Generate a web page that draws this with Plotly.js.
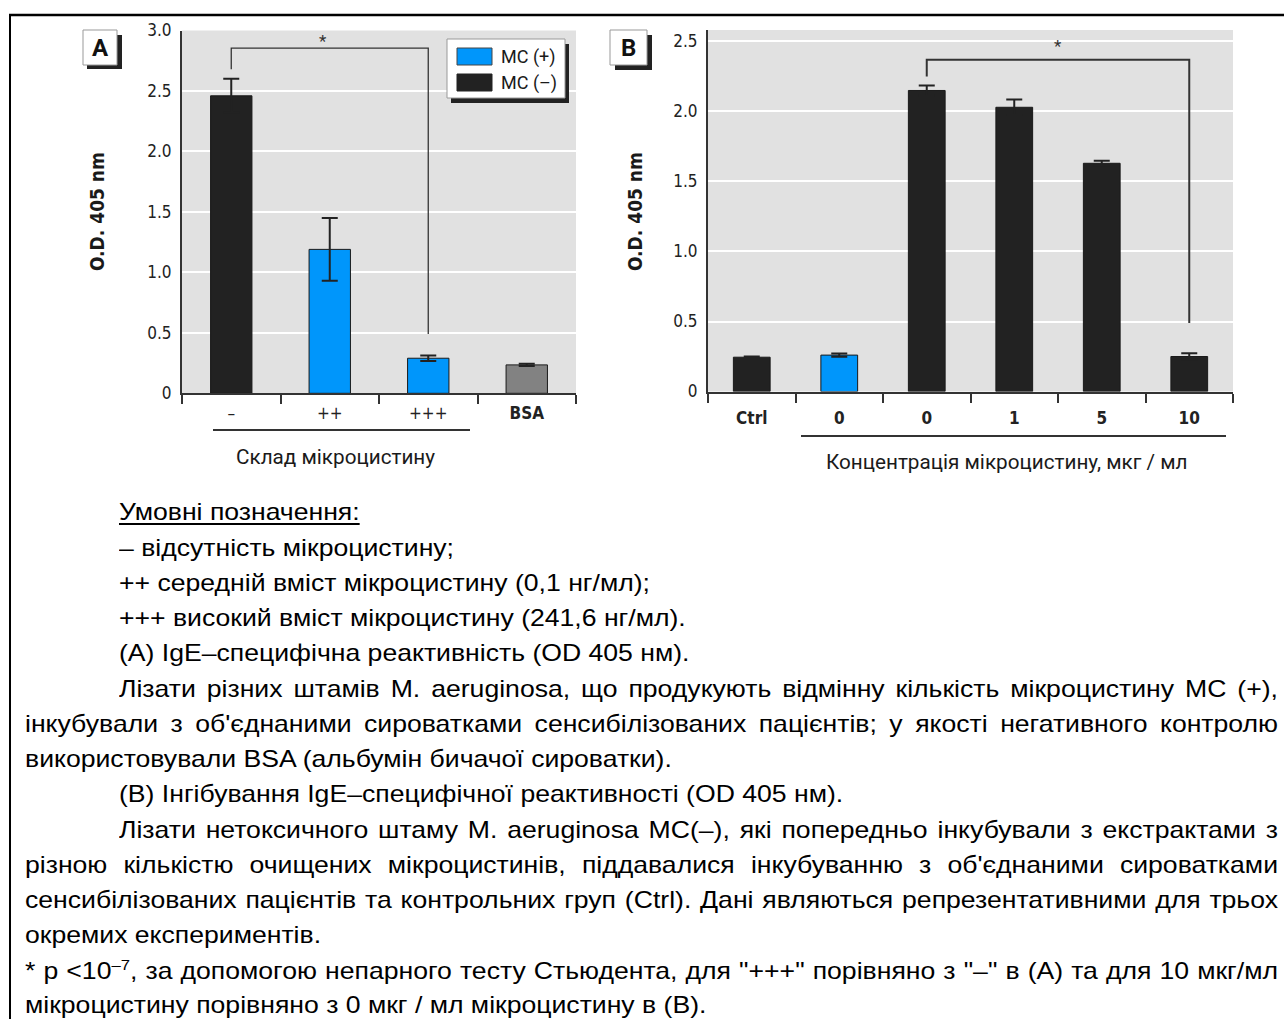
<!DOCTYPE html>
<html>
<head>
<meta charset="utf-8">
<script src="https://cdn.plot.ly/plotly-3.0.1.min.js"></script>
<style>
  html, body { margin: 0; padding: 0; background: #fff; }
  #wrap { position: relative; width: 1284px; height: 1019px; overflow: hidden; }
  #chart { position: absolute; left: 0; top: 0; width: 1284px; height: 1019px; }
  #caption { position: absolute; left: 0; top: 0; width: 1284px; height: 1019px; pointer-events: none;
             font-family: "Liberation Sans", Arial, sans-serif; font-size: 24px; color: #000; }
  .ln { position: absolute; white-space: nowrap; line-height: 35px; transform-origin: 0 50%; }
  .jst { text-align: justify; text-align-last: justify; white-space: normal; }
  sup { font-size: 15px; line-height: 0; vertical-align: 9px; }
  u { text-decoration-thickness: 2px; text-underline-offset: 3px; }
</style>
</head>
<body>
<div id="wrap">
  <div id="chart"></div>
  <div id="caption"></div>
</div>
<script>
// ---------------- DATA ----------------
// Panel A
const categoriesA = ['–', '++', '+++', 'BSA'];
const groupsA     = ['MC(–)', 'MC(+)', 'MC(+)', 'BSA'];
const valuesA     = [2.46, 1.19, 0.29, 0.235];
const errorsA     = [0.14, 0.26, 0.022, 0.010];
const yTicksA     = [0, 0.5, 1.0, 1.5, 2.0, 2.5, 3.0];
const yTickTextA  = ['0', '0.5', '1.0', '1.5', '2.0', '2.5', '3.0'];
// significance bracket A: [from index, to index, level, from-leg end, to-leg end]
const bracketA    = [0, 2, 2.855, 2.68, 0.49];

// Panel B
const categoriesB = ['Ctrl', '0', '0', '1', '5', '10'];
const groupsB     = ['MC(–)', 'MC(+)', 'MC(–)', 'MC(–)', 'MC(–)', 'MC(–)'];
const valuesB     = [0.245, 0.26, 2.15, 2.03, 1.63, 0.25];
const errorsB     = [0.005, 0.012, 0.035, 0.055, 0.018, 0.024];
const yTicksB     = [0, 0.5, 1.0, 1.5, 2.0, 2.5];
const yTickTextB  = ['0', '0.5', '1.0', '1.5', '2.0', '2.5'];
const bracketB    = [2, 5, 2.37, 2.25, 0.49];

const legendLabels = ['MC (+)', 'MC (–)'];

// ---------------- STYLE ----------------
const colorMap = { 'MC(+)': '#0096fb', 'MC(–)': '#222222', 'BSA': '#828282' };
const W = 1284, H = 1019;
const px = v => v / W;          // x pixel -> paper
const py = v => 1 - v / H;      // y pixel -> paper
const CHART_FONT = 'Roboto, "Liberation Sans", Arial, sans-serif';
const NARROW_FONT = '"DejaVu Sans Condensed", "Liberation Sans Narrow", Roboto, sans-serif';
const AXC = '#333333';

function barTrace(cats, groups, vals, errs, xa, ya) {
  return {
    type: 'bar',
    x: cats.map((c, i) => i),
    y: vals,
    width: 0.42,
    xaxis: xa, yaxis: ya,
    marker: { color: groups.map(g => colorMap[g]), line: { color: '#1a1a1a', width: 1 } },
    error_y: { type: 'data', symmetric: true, array: errs, color: '#222', thickness: 2, width: 8 },
    showlegend: false,
    hoverinfo: 'skip'
  };
}

function xAxis(cats, domain, anchor, boldLabels, standoff) {
  const n = cats.length;
  const bounds = [];
  for (let i = 0; i <= n; i++) bounds.push(i - 0.5);
  return {
    domain: domain, anchor: anchor,
    range: [-0.5, n - 0.5],
    tickmode: 'array',
    tickvals: cats.map((c, i) => i),
    ticktext: cats.map(c => (boldLabels === true || c === boldLabels) ? '<b>' + c + '</b>' : c),
    ticks: '', ticklabelstandoff: standoff,
    tickfont: { family: NARROW_FONT, size: 17, color: '#222' },
    showline: true, linecolor: AXC, linewidth: 2,
    showgrid: false, zeroline: false, fixedrange: true,
    minor: { tickmode: 'array', tickvals: bounds, ticks: 'outside', ticklen: 9, tickwidth: 2, tickcolor: AXC, showgrid: false }
  };
}

function yAxis(range, domain, anchor, tv, tt) {
  return {
    domain: domain, anchor: anchor, range: range,
    tickmode: 'array', tickvals: tv, ticktext: tt,
    ticks: '', ticklabelstandoff: 5,
    tickfont: { family: NARROW_FONT, size: 17, color: '#222' },
    showline: true, linecolor: AXC, linewidth: 2,
    showgrid: true, gridcolor: '#ffffff', gridwidth: 2,
    zeroline: false, fixedrange: true
  };
}

const traces = [
  barTrace(categoriesA, groupsA, valuesA, errorsA, 'x', 'y'),
  barTrace(categoriesB, groupsB, valuesB, errorsB, 'x2', 'y2')
];

function bracketShape(b, xr, yr, w) {
  return {
    type: 'path', xref: xr, yref: yr,
    path: `M ${b[0]},${b[3]} L ${b[0]},${b[2]} L ${b[1]},${b[2]} L ${b[1]},${b[4]}`,
    line: { color: '#333', width: w }
  };
}

function rectPx(x0, y0, x1, y1, fill, lineColor, lw) {
  return { type: 'rect', xref: 'paper', yref: 'paper', x0: px(x0), x1: px(x1), y0: py(y1), y1: py(y0),
           fillcolor: fill, line: { color: lineColor || fill, width: lw === undefined ? 0 : lw }, layer: 'above' };
}
function linePx(x0, y0, x1, y1, color, w) {
  return { type: 'line', xref: 'paper', yref: 'paper', x0: px(x0), x1: px(x1), y0: py(y0), y1: py(y1),
           line: { color: color, width: w }, layer: 'above' };
}
function textPx(x, y, text, opts) {
  return Object.assign({ xref: 'paper', yref: 'paper', x: px(x), y: py(y), text: text, showarrow: false,
                         xanchor: 'center', yanchor: 'middle',
                         font: { family: CHART_FONT, size: 18, color: '#1a1a1a' } }, opts || {});
}

const shapes = [
  // frame
  linePx(9, 15, 1284, 15, '#000', 2.5),
  linePx(10, 14, 10, 1019, '#000', 2),
  // brackets
  bracketShape(bracketA, 'x', 'y', 1.3),
  bracketShape(bracketB, 'x2', 'y2', 2),
  // category underlines
  linePx(213, 430, 470, 430, '#333', 2),
  linePx(801, 436, 1226, 436, '#333', 2),
  // panel label boxes
  rectPx(87, 35, 122, 69, '#222'),
  rectPx(83, 30, 117, 65, '#ffffff', '#999', 1),
  rectPx(615, 35, 652, 70, '#222'),
  rectPx(610, 30, 647, 65, '#ffffff', '#999', 1),
  // legend box
  rectPx(451, 44, 569, 103, '#222'),
  rectPx(447, 39, 565, 98, '#ffffff', '#999', 1),
  rectPx(457, 48, 492, 65, colorMap['MC(+)'], '#444', 1),
  rectPx(457, 74, 492, 91, colorMap['MC(–)'], '#222', 1)
];

const annotations = [
  textPx(100, 48, '<b>A</b>', { font: { family: CHART_FONT, size: 24, color: '#111' } }),
  textPx(628, 48, '<b>B</b>', { font: { family: CHART_FONT, size: 24, color: '#111' } }),
  textPx(499, 57, legendLabels[0], { xanchor: 'left' }),
  textPx(499, 83, legendLabels[1], { xanchor: 'left' }),
  textPx(97, 212, '<b>O.D. 405 nm</b>', { textangle: -90, font: { family: NARROW_FONT, size: 19, color: '#1a1a1a' } }),
  textPx(635, 212, '<b>O.D. 405 nm</b>', { textangle: -90, font: { family: NARROW_FONT, size: 19, color: '#1a1a1a' } }),
  textPx(336, 457, 'Склад мікроцистину', { font: { family: CHART_FONT, size: 20.7, color: '#1a1a1a' } }),
  textPx(1007, 462, 'Концентрація мікроцистину, мкг / мл', { font: { family: CHART_FONT, size: 20.7, color: '#1a1a1a' } }),
  // significance stars (at bracket midpoints)
  { xref: 'x', yref: 'y', x: (bracketA[0] + bracketA[1]) / 2 - 0.07, y: bracketA[2], yshift: -5, yanchor: 'bottom',
    text: '*', showarrow: false, font: { family: CHART_FONT, size: 17, color: '#333' } },
  { xref: 'x2', yref: 'y2', x: (bracketB[0] + bracketB[1]) / 2, y: bracketB[2], yshift: 2, yanchor: 'bottom',
    text: '*', showarrow: false, font: { family: CHART_FONT, size: 17, color: '#333' } }
];

const layout = {
  width: W, height: H,
  margin: { l: 0, r: 0, t: 0, b: 0 },
  paper_bgcolor: '#ffffff', plot_bgcolor: '#e1e1e1',
  showlegend: false, bargap: 0,
  xaxis: xAxis(categoriesA, [px(182), px(576)], 'y', 'BSA', 3),
  yaxis: yAxis([0, 3.0], [py(393.3), py(30.5)], 'x', yTicksA, yTickTextA),
  xaxis2: xAxis(categoriesB, [px(708), px(1233)], 'y2', true, 10),
  yaxis2: yAxis([0, 2.582], [py(391.5), py(30)], 'x2', yTicksB, yTickTextB),
  shapes: shapes,
  annotations: annotations
};

Plotly.newPlot('chart', traces, layout, { displayModeBar: false, staticPlot: true });

// ---------------- CAPTION ----------------
const SX = 1.108; // horizontal stretch of the caption text
const captionLines = [
  { t: '<u>Умовні позначення:</u>', ind: true },
  { t: '– відсутність мікроцистину;', ind: true },
  { t: '++ середній вміст мікроцистину (0,1 нг/мл);', ind: true },
  { t: '+++ високий вміст мікроцистину (241,6 нг/мл).', ind: true },
  { t: '(A) IgE–специфічна реактивність (OD 405 нм).', ind: true },
  { t: 'Лізати різних штамів M. aeruginosa, що продукують відмінну кількість мікроцистину MC (+),', ind: true, j: true },
  { t: 'інкубували з об\'єднаними сироватками сенсибілізованих пацієнтів; у якості негативного контролю', j: true },
  { t: 'використовували BSA (альбумін бичачої сироватки).' },
  { t: '(B) Інгібування IgE–специфічної реактивності (OD 405 нм).', ind: true },
  { t: 'Лізати нетоксичного штаму M. aeruginosa MC(–), які попередньо інкубували з екстрактами з', ind: true, j: true },
  { t: 'різною кількістю очищених мікроцистинів, піддавалися інкубуванню з об\'єднаними сироватками', j: true },
  { t: 'сенсибілізованих пацієнтів та контрольних груп (Ctrl). Дані являються репрезентативними для трьох', j: true },
  { t: 'окремих експериментів.' },
  { t: '* p &lt;10<sup>–7</sup>, за допомогою непарного тесту Стьюдента, для "+++" порівняно з "–" в (A) та для 10 мкг/мл', j: true },
  { t: 'мікроцистину порівняно з 0 мкг / мл мікроцистину в (B).' }
];
const lineCenters = [511, 547, 582, 617, 652, 688, 723, 758, 793, 829, 864, 899, 934, 970, 1004];
const cap = document.getElementById('caption');
captionLines.forEach((l, i) => {
  const d = document.createElement('div');
  d.className = 'ln' + (l.j ? ' jst' : '');
  const left = l.ind ? 119 : 25;
  d.style.left = left + 'px';
  d.style.top = (lineCenters[i] - 17.5) + 'px';
  d.style.transform = 'scaleX(' + SX + ')';
  if (l.j) d.style.width = ((1278 - left) / SX) + 'px';
  d.innerHTML = l.t;
  cap.appendChild(d);
  // keep justified lines on a single line
  let fs = 24;
  while (l.j && d.offsetHeight > 40 && fs > 18) {
    fs -= 0.2;
    d.style.fontSize = fs + 'px';
  }
});
</script>
</body>
</html>
